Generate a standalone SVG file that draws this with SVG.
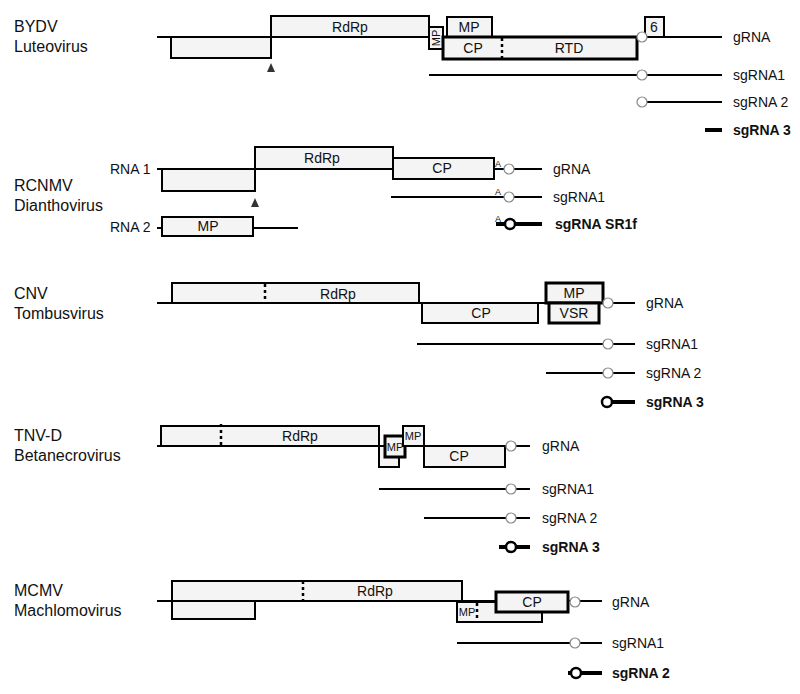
<svg xmlns="http://www.w3.org/2000/svg" width="800" height="694" viewBox="0 0 800 694">
<style>
text{font-family:"Liberation Sans",Arial,sans-serif;fill:#111}
.lab{font-size:16px}
.rna{font-size:14px}
.b{font-weight:bold}
.box{fill:#f4f4f4;stroke:#000;stroke-width:2}
.tbox{fill:#f4f4f4;stroke:#000;stroke-width:3}
.ln{stroke:#000;stroke-width:2;fill:none}
.thk{stroke:#000;stroke-width:4;fill:none}
.dash{stroke:#000;stroke-width:2.5;stroke-dasharray:3,3}
.c{fill:#fff;stroke:#888;stroke-width:1.2}
.cb{fill:#fff;stroke:#000;stroke-width:2.5}
.ar{fill:#333}
.t{font-size:14px;text-anchor:middle}
.s{font-size:11px;text-anchor:middle}
.a{font-size:9px}
</style>
<g id="connectors">
<!-- BYDV -->
<line class="ln" x1="157" y1="37" x2="722" y2="37"/>
<line class="ln" x1="429" y1="75" x2="722" y2="75"/>
<line class="ln" x1="642" y1="102" x2="722" y2="102"/>
<line class="thk" x1="705" y1="130" x2="722" y2="130"/>
<!-- RCNMV -->
<line class="ln" x1="157" y1="169" x2="542" y2="169"/>
<line class="ln" x1="391" y1="197" x2="542" y2="197"/>
<line class="thk" x1="496" y1="224" x2="542" y2="224"/>
<line class="ln" x1="157" y1="228" x2="298" y2="228"/>
<!-- CNV -->
<line class="ln" x1="157" y1="303" x2="635" y2="303"/>
<line class="ln" x1="417" y1="344" x2="635" y2="344"/>
<line class="ln" x1="546" y1="373" x2="635" y2="373"/>
<line class="thk" x1="607" y1="402" x2="635" y2="402"/>
<!-- TNV-D -->
<line class="ln" x1="157" y1="446" x2="530" y2="446"/>
<line class="ln" x1="379" y1="489" x2="530" y2="489"/>
<line class="ln" x1="424" y1="518" x2="530" y2="518"/>
<line class="thk" x1="499" y1="547" x2="530" y2="547"/>
<!-- MCMV -->
<line class="ln" x1="157" y1="601" x2="602" y2="601"/>
<line class="ln" x1="457" y1="643" x2="602" y2="643"/>
<line class="thk" x1="568" y1="673" x2="602" y2="673"/>
</g>

<g id="bydv">
<text class="lab" x="14" y="32">BYDV</text>
<text class="lab" x="14" y="52">Luteovirus</text>
<rect class="box" x="171" y="37" width="100" height="21"/>
<rect class="box" x="271" y="16" width="158" height="21"/>
<text class="t" x="350" y="32">RdRp</text>
<polygon class="ar" points="271,63 267,72 275,72"/>
<rect class="box" x="429" y="27" width="14" height="22"/>
<text class="s" transform="translate(440,38) rotate(-90)" y="0">MP</text>
<rect class="box" x="447" y="17" width="45" height="20"/>
<text class="t" x="469" y="32">MP</text>
<rect class="tbox" x="443" y="37" width="194" height="22"/>
<line class="dash" x1="502" y1="38" x2="502" y2="58"/>
<text class="t" x="473" y="53">CP</text>
<text class="t" x="569" y="53">RTD</text>
<rect class="box" x="645" y="17" width="19" height="20"/>
<text class="t" x="654" y="32">6</text>
<circle class="c" cx="642" cy="37" r="5"/>
<circle class="c" cx="642" cy="75" r="5"/>
<circle class="c" cx="642" cy="102" r="5"/>
<text class="rna" x="733" y="42">gRNA</text>
<text class="rna" x="733" y="80">sgRNA1</text>
<text class="rna" x="733" y="107">sgRNA 2</text>
<text class="rna b" x="733" y="135">sgRNA 3</text>
</g>

<g id="rcnmv">
<text class="lab" x="14" y="191">RCNMV</text>
<text class="lab" x="14" y="211">Dianthovirus</text>
<text class="rna" x="110" y="174">RNA 1</text>
<rect class="box" x="162" y="169" width="93" height="22"/>
<rect class="box" x="255" y="147" width="138" height="22"/>
<text class="t" x="322" y="163">RdRp</text>
<polygon class="ar" points="255,198 251,207 259,207"/>
<rect class="box" x="393" y="158" width="101" height="21"/>
<text class="t" x="442" y="173">CP</text>
<text class="a" x="495" y="167">A</text>
<circle class="c" cx="509" cy="169" r="5"/>
<text class="a" x="495" y="195">A</text>
<circle class="c" cx="509" cy="197" r="5"/>
<text class="a" x="495" y="222">A</text>
<circle class="cb" cx="510" cy="224" r="5"/>
<text class="rna" x="553" y="174">gRNA</text>
<text class="rna" x="553" y="202">sgRNA1</text>
<text class="rna b" x="555" y="229">sgRNA SR1f</text>
<text class="rna" x="110" y="232">RNA 2</text>
<rect class="box" x="162" y="217" width="91" height="19"/>
<text class="t" x="208" y="231">MP</text>
</g>

<g id="cnv">
<text class="lab" x="14" y="299">CNV</text>
<text class="lab" x="14" y="319">Tombusvirus</text>
<rect class="box" x="172" y="283" width="247" height="20"/>
<line class="dash" x1="265" y1="284" x2="265" y2="302"/>
<text class="t" x="338" y="299">RdRp</text>
<rect class="box" x="422" y="303" width="116" height="20"/>
<text class="t" x="481" y="318">CP</text>
<rect class="tbox" x="546" y="283" width="57" height="20"/>
<text class="t" x="574" y="298">MP</text>
<rect class="tbox" x="549" y="303" width="50" height="20"/>
<text class="t" x="574" y="318">VSR</text>
<circle class="c" cx="608" cy="303" r="5"/>
<circle class="c" cx="608" cy="344" r="5"/>
<circle class="c" cx="608" cy="373" r="5"/>
<circle class="cb" cx="607" cy="402" r="5"/>
<text class="rna" x="646" y="308">gRNA</text>
<text class="rna" x="646" y="349">sgRNA1</text>
<text class="rna" x="646" y="378">sgRNA 2</text>
<text class="rna b" x="646" y="407">sgRNA 3</text>
</g>

<g id="tnvd">
<text class="lab" x="14" y="441">TNV-D</text>
<text class="lab" x="14" y="461">Betanecrovirus</text>
<rect class="box" x="161" y="426" width="218" height="20"/>
<line class="dash" x1="221" y1="424" x2="221" y2="445"/>
<text class="t" x="300" y="441">RdRp</text>
<rect class="box" x="379" y="446" width="20" height="21"/>
<rect class="tbox" x="385" y="436" width="20" height="21"/>
<text class="s" x="395" y="451" font-size="10">MP</text>
<rect class="box" x="403" y="426" width="21" height="20"/>
<text class="s" x="413" y="440">MP</text>
<rect class="box" x="424" y="446" width="81" height="21"/>
<text class="t" x="459" y="461">CP</text>
<circle class="c" cx="511" cy="446" r="5"/>
<circle class="c" cx="511" cy="489" r="5"/>
<circle class="c" cx="511" cy="518" r="5"/>
<circle class="cb" cx="511" cy="547" r="5"/>
<text class="rna" x="542" y="451">gRNA</text>
<text class="rna" x="542" y="494">sgRNA1</text>
<text class="rna" x="542" y="523">sgRNA 2</text>
<text class="rna b" x="542" y="552">sgRNA 3</text>
</g>

<g id="mcmv">
<text class="lab" x="14" y="596">MCMV</text>
<text class="lab" x="14" y="616">Machlomovirus</text>
<rect class="box" x="172" y="581" width="290" height="20"/>
<line class="dash" x1="303" y1="581" x2="303" y2="600"/>
<text class="t" x="375" y="596">RdRp</text>
<rect class="box" x="172" y="601" width="83" height="18"/>
<rect class="box" x="457" y="602" width="85" height="20"/>
<line class="dash" x1="477" y1="603" x2="477" y2="621"/>
<text class="s" x="467" y="616" font-size="10">MP</text>
<rect class="tbox" x="496" y="592" width="72" height="20"/>
<text class="t" x="532" y="607">CP</text>
<circle class="c" cx="575" cy="602" r="5"/>
<circle class="c" cx="575" cy="643" r="5"/>
<circle class="cb" cx="576" cy="673" r="5"/>
<text class="rna" x="612" y="607">gRNA</text>
<text class="rna" x="612" y="648">sgRNA1</text>
<text class="rna b" x="612" y="678">sgRNA 2</text>
</g>
</svg>
